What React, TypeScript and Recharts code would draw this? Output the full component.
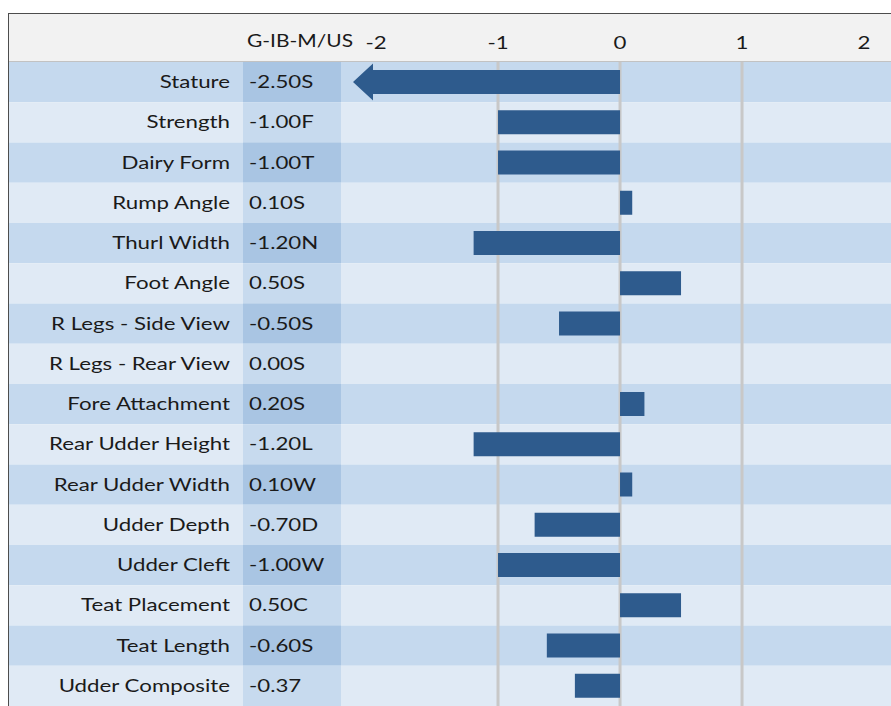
import {
  BarChart, Bar, XAxis, YAxis, ReferenceArea, ReferenceLine,
} from 'recharts';

const traits = [
  'Stature', 'Strength', 'Dairy Form', 'Rump Angle', 'Thurl Width', 'Foot Angle',
  'R Legs - Side View', 'R Legs - Rear View', 'Fore Attachment', 'Rear Udder Height',
  'Rear Udder Width', 'Udder Depth', 'Udder Cleft', 'Teat Placement', 'Teat Length',
  'Udder Composite',
];
const values = [-2.5, -1, -1, 0.1, -1.2, 0.5, -0.5, 0, 0.2, -1.2, 0.1, -0.7, -1, 0.5, -0.6, -0.37];
const scoreLabels = [
  '-2.50S', '-1.00F', '-1.00T', '0.10S', '-1.20N', '0.50S', '-0.50S', '0.00S',
  '0.20S', '-1.20L', '0.10W', '-0.70D', '-1.00W', '0.50C', '-0.60S', '-0.37',
];
const xTicks = [-2, -1, 0, 1, 2];
const gridValues = [-1, 0, 1];
const columnTitle = 'G-IB-M/US';

const data = traits.map((name, i) => ({ name, value: values[i], score: scoreLabels[i] }));

const W = 891;
const H = 706;
const PLOT_LEFT = 341;
const DOMAIN: [number, number] = [-2.287, 2.221];
const FONT = 'Lato, "Open Sans", sans-serif';
const FS = 16.5;
const SX = 1.35;
const TEXT = '#1a1a1a';
const BAR = '#2e5b8d';

const STRIPE = ['#c5d9ee', '#e0eaf5'];
const VALUE_COL = ['#a9c5e3', '#c7daee'];

function RowStripe(props: any) {
  const { y, height, idx } = props;
  const k = idx % 2;
  return (
    <g>
      <rect x={9} y={y} width={W - 9} height={height} fill={STRIPE[k]} />
      <rect x={243} y={y} width={PLOT_LEFT - 243} height={height} fill={VALUE_COL[k]} />
    </g>
  );
}

function TraitTick(props: any) {
  const { y, index } = props;
  return (
    <g>
      <text transform={`translate(230, ${y}) scale(${SX}, 1)`} textAnchor="end" dy="0.36em"
        fontFamily={FONT} fontSize={FS} fill={TEXT}>{traits[index]}</text>
      <text transform={`translate(249, ${y}) scale(${SX}, 1)`} textAnchor="start" dy="0.36em"
        fontFamily={FONT} fontSize={FS} fill={TEXT}>{scoreLabels[index]}</text>
    </g>
  );
}

function ValueTick(props: any) {
  const { x, y, payload } = props;
  return (
    <text transform={`translate(${x}, ${y}) scale(${SX}, 1)`} textAnchor="middle"
      fontFamily={FONT} fontSize={FS} fill={TEXT}>{payload.value}</text>
  );
}

// bars past the left edge of the axis get an arrow head
function ScoreBar(props: any) {
  const { x, y, width, height, payload } = props;
  const left = Math.min(x, x + width);
  const right = Math.max(x, x + width);
  if (payload.value >= DOMAIN[0]) {
    return <rect x={left} y={y} width={right - left} height={height} fill={BAR} />;
  }
  const tip = PLOT_LEFT + 12;
  const headEnd = tip + 20;
  const cy = y + height / 2;
  const half = 18.5;
  const pts = [
    [tip, cy], [headEnd, cy - half], [headEnd, y], [right, y],
    [right, y + height], [headEnd, y + height], [headEnd, cy + half],
  ].map((p) => p.join(',')).join(' ');
  return <polygon points={pts} fill={BAR} />;
}

export default function App() {
  return (
    <div style={{ position: 'absolute', left: 0, top: 0, width: W, height: H, overflow: 'hidden', background: '#fff' }}>
      <div style={{ position: 'absolute', left: 8, top: 13, width: W - 8, height: 48, background: '#f2f2f2', borderBottom: '1px solid #c2c2c2' }} />
      <div style={{
        position: 'absolute', left: 247, top: 31, fontFamily: FONT, fontSize: FS, color: TEXT,
        transform: 'scale(1.27, 1)', transformOrigin: 'left top', lineHeight: '20px', whiteSpace: 'nowrap',
      }}>{columnTitle}</div>
      <div style={{ position: 'absolute', left: 0, top: 0 }}>
        <BarChart width={W} height={H} data={data} layout="vertical"
          margin={{ top: 32, right: 0, bottom: 0, left: 0 }} barSize={24}>
          {traits.map((t, i) => (
            <ReferenceArea key={t} y1={t} y2={t} ifOverflow="visible" zIndex={-300}
              shape={(p: any) => <RowStripe {...p} idx={i} />} />
          ))}
          {gridValues.map((v) => (
            <ReferenceLine key={v} x={v} stroke="#c8c8c8" strokeWidth={3} zIndex={-200} />
          ))}
          <XAxis type="number" orientation="top" height={30} domain={DOMAIN} ticks={xTicks}
            allowDataOverflow axisLine={false} tickLine={false} tickSize={0} tickMargin={13}
            tick={<ValueTick />} interval={0} />
          <YAxis type="category" dataKey="name" width={PLOT_LEFT} axisLine={false}
            tickLine={false} tick={<TraitTick />} interval={0} />
          <Bar dataKey="value" fill={BAR} shape={<ScoreBar />} isAnimationActive={false} />
        </BarChart>
      </div>
      <div style={{ position: 'absolute', left: 8, top: 13, width: W, height: H, borderLeft: '1.5px solid #4d4d4d', borderTop: '1.5px solid #4d4d4d', pointerEvents: 'none' }} />
    </div>
  );
}
